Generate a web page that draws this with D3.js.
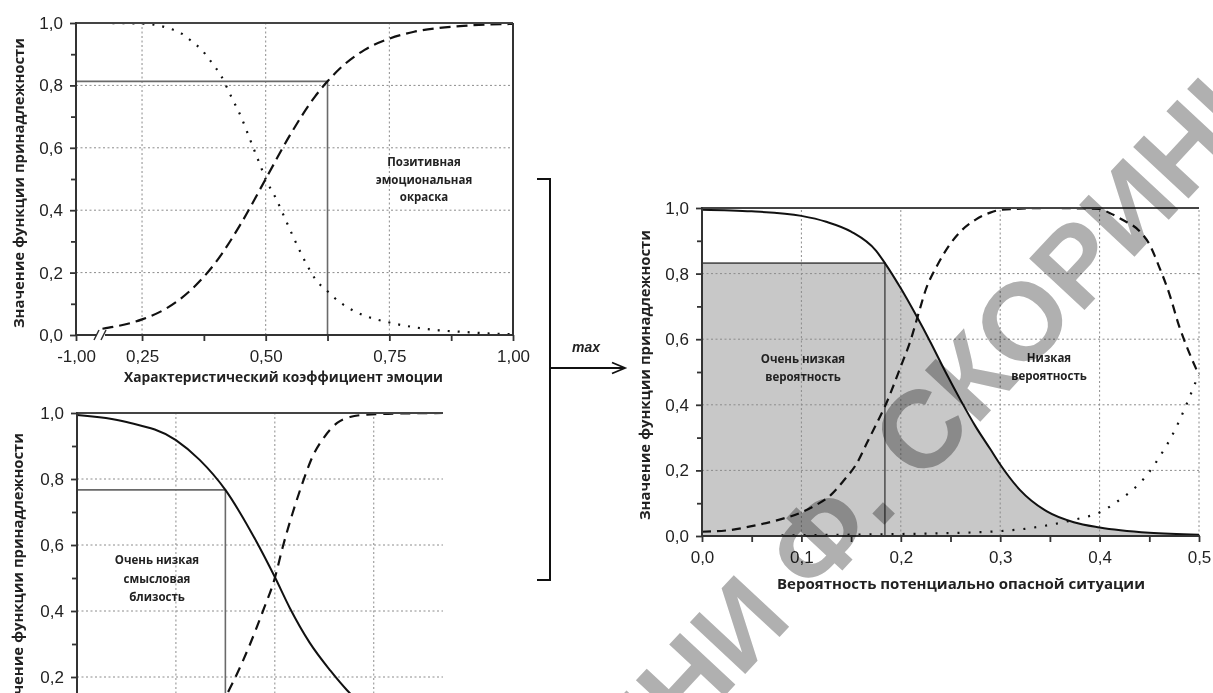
<!DOCTYPE html>
<html><head><meta charset="utf-8">
<script src="https://cdn.jsdelivr.net/npm/d3@7"></script>
<style>
body{margin:0;background:#fff;}
svg{display:block;}
</style></head><body>
<svg id="c" width="1213" height="693"></svg>
<script>
// ---------- DATA ----------
// Panel 1: emotion coefficient
const p1TickX = [-1, 0.25, 0.5, 0.75, 1];
const p1MinorX = [0.375, 0.625, 0.875];
const p1PosX = [0.17,0.25,0.30,0.35,0.40,0.45,0.50,0.55,0.60,0.625,0.65,0.70,0.75,0.80,0.85,0.90,0.95,1.0];
const p1Positive = [0.02,0.05,0.086,0.146,0.235,0.357,0.50,0.643,0.765,0.813,0.854,0.914,0.95,0.972,0.984,0.991,0.995,0.997];
const p1NegX = [0.17,0.25,0.30,0.33,0.35,0.37,0.39,0.41,0.43,0.45,0.47,0.49,0.50,0.52,0.54,0.56,0.58,0.60,0.625,0.65,0.675,0.70,0.75,0.80,0.85,0.90,0.95,1.0];
const p1Negative = [1.0,0.998,0.985,0.966,0.942,0.915,0.875,0.83,0.765,0.70,0.62,0.54,0.50,0.44,0.37,0.30,0.235,0.18,0.14,0.105,0.08,0.062,0.04,0.025,0.015,0.01,0.005,0.003];
const p1Cut = [0.625, 0.813];
const p1Text = ["Позитивная","эмоциональная","окраска"];

// Panel 2: semantic closeness
const p2YTicks = [0.2,0.4,0.6,0.8,1.0];
const p2SolidX = [0,0.05,0.1,0.124,0.15,0.175,0.2,0.215,0.235,0.256,0.273,0.29,0.31,0.34,0.37];
const p2Solid = [0.994,0.973,0.918,0.858,0.767,0.645,0.503,0.41,0.305,0.22,0.16,0.11,0.07,0.035,0.015];
const p2DashX = [0.12,0.14,0.157,0.175,0.188,0.2,0.208,0.218,0.228,0.238,0.25,0.263,0.276,0.293,0.32,0.37];
const p2Dash = [0.04,0.09,0.18,0.30,0.40,0.50,0.594,0.697,0.788,0.867,0.927,0.97,0.988,0.995,0.998,1.0];
const p2Cut = [0.15, 0.767];
const p2Text = ["Очень низкая","смысловая","близость"];

// Panel 3: probability of dangerous situation
const p3TickX = [0,0.1,0.2,0.3,0.4,0.5];
const p3MinorX = [0.05,0.15,0.25,0.35,0.45];
const p3SolidX = [0,0.05,0.1,0.125,0.15,0.175,0.184,0.2,0.215,0.23,0.245,0.26,0.275,0.29,0.30,0.32,0.347,0.374,0.40,0.45,0.5];
const p3Solid = [0.995,0.99,0.976,0.958,0.928,0.87,0.832,0.755,0.675,0.59,0.50,0.415,0.335,0.265,0.218,0.14,0.075,0.042,0.026,0.01,0.004];
const p3DashX = [0,0.025,0.05,0.078,0.1,0.112,0.13,0.142,0.156,0.166,0.176,0.184,0.2,0.21,0.218,0.225,0.237,0.248,0.26,0.275,0.29,0.302,0.35,0.4,0.41,0.423,0.44,0.45,0.46,0.47,0.48,0.49,0.5];
const p3Dash = [0.013,0.017,0.03,0.05,0.072,0.09,0.126,0.167,0.223,0.284,0.345,0.395,0.517,0.598,0.68,0.75,0.827,0.883,0.928,0.964,0.986,0.995,1.0,0.997,0.985,0.964,0.93,0.89,0.82,0.74,0.64,0.56,0.49];
const p3DotX = [0.08,0.15,0.2,0.25,0.3,0.325,0.35,0.375,0.4,0.42,0.44,0.45,0.46,0.47,0.48,0.49,0.5];
const p3Dot = [0.002,0.004,0.006,0.009,0.015,0.022,0.034,0.05,0.072,0.11,0.16,0.195,0.24,0.29,0.35,0.42,0.495];
const p3Cut = [0.184, 0.832];
const p3TextLeft = ["Очень низкая","вероятность"];
const p3TextRight = ["Низкая","вероятность"];

const yTicks = [0,0.2,0.4,0.6,0.8,1.0];
const yMinor = [0.1,0.3,0.5,0.7,0.9];
const gridY = [0.2,0.4,0.6,0.8];
const yTitle = "Значение функции принадлежности";
const p1XTitle = "Характеристический коэффициент эмоции";
const p3XTitle = "Вероятность потенциально опасной ситуации";
const maxLabel = "max";
const watermark1 = "ИМЕНИ Ф.";
const watermark2 = "СКОРИНЫ";

// ---------- DRAW ----------
const fmt1 = v => v.toFixed(1).replace(".", ",");
const fmt2 = v => v.toFixed(2).replace(".", ",");
const svg = d3.select("#c");
svg.append("rect").attr("width",1213).attr("height",693).attr("fill","#fff");

const SANS = "'Liberation Sans', Arial, sans-serif";
const BOLD = "'Open Sans', 'DejaVu Sans', sans-serif";

function lineGen(x,y){ return d3.line().x(d=>x(d[0])).y(d=>y(d[1])).curve(d3.curveMonotoneX); }

function drawPanel(o){
  const g = svg.append("g");
  const x = o.x, y = o.y;
  const xr = x.range(), x0 = xr[0], x1 = xr[xr.length-1];
  const y0 = y.range()[0], y1 = y.range()[1];

  const fillLayer = g.append("g");
  if (o.fill) o.fill(fillLayer, x, y);

  const grid = g.append("g").attr("stroke","#8c8c8c").attr("stroke-width",1).attr("stroke-dasharray","2,2.5");
  o.gridX.forEach(v=>grid.append("line").attr("x1",x(v)).attr("x2",x(v)).attr("y1",y0).attr("y2",y1));
  gridY.forEach(v=>grid.append("line").attr("x1",x0).attr("x2",x1).attr("y1",y(v)).attr("y2",y(v)));

  g.append("path").attr("fill","none").attr("stroke",o.cutColor||"#6a6a6a").attr("stroke-width",1.6)
    .attr("d",`M${x0},${y(o.cut[1])}H${x(o.cut[0])}V${y0}`);

  o.curves.forEach(c=>{
    g.append("path").datum(d3.zip(c.xs,c.ys)).attr("fill","none").attr("stroke","#111")
      .attr("stroke-width",c.w||2).attr("stroke-dasharray",c.dash||null)
      .attr("d",lineGen(x,y));
  });

  const ax = g.append("g").attr("stroke","#333").attr("stroke-width",2).attr("fill","none");
  ax.append("line").attr("x1",x0).attr("x2",x1).attr("y1",y1).attr("y2",y1).attr("stroke","#444");
  ax.append("line").attr("x1",x0).attr("x2",x0).attr("y1",y0+1).attr("y2",y1-1);
  ax.append("line").attr("x1",x0-1).attr("x2",x1+1).attr("y1",y0).attr("y2",y0);
  if (o.rightBorder) ax.append("line").attr("x1",x1).attr("x2",x1).attr("y1",y0).attr("y2",y1);

  const yAx = g.append("g").attr("transform",`translate(${x0},0)`)
    .call(d3.axisLeft(y).tickValues(o.yTicks||yTicks).tickFormat(fmt1).tickSize(6).tickPadding(7));
  const yAxM = g.append("g").attr("transform",`translate(${x0},0)`)
    .call(d3.axisLeft(y).tickValues(yMinor).tickFormat("").tickSize(5));
  [yAx,yAxM].forEach(a=>{a.select(".domain").remove(); a.selectAll("line").attr("stroke","#333").attr("stroke-width",1.8);});
  yAx.selectAll("text").attr("font-size",17).attr("font-family",SANS).attr("fill","#222");

  if (o.xTicks){
    const xAx = g.append("g").attr("transform",`translate(0,${y0})`)
      .call(d3.axisBottom(x).tickValues(o.xTicks).tickFormat(o.xFmt).tickSize(6).tickPadding(9));
    const xAxM = g.append("g").attr("transform",`translate(0,${y0})`)
      .call(d3.axisBottom(x).tickValues(o.xMinor).tickFormat("").tickSize(6));
    [xAx,xAxM].forEach(a=>{a.select(".domain").remove(); a.selectAll("line").attr("stroke","#333").attr("stroke-width",1.8);});
    xAx.selectAll("text").attr("font-size",17).attr("font-family",SANS).attr("fill","#222");
  }
  return g;
}

function multiText(lines, cx, cy, lh, size){
  lines.forEach((t,i)=>{
    svg.append("text").attr("x",cx).attr("y",cy+i*lh).attr("dy","0.35em").attr("text-anchor","middle")
      .attr("font-family",BOLD).attr("font-weight",700).attr("font-size",size).attr("fill","#222").text(t);
  });
}
function rotTitle(t, cx, cy, len){
  svg.append("text").attr("transform",`translate(${cx},${cy}) rotate(-90)`).attr("dy","0.35em")
    .attr("text-anchor","middle").attr("font-family",BOLD).attr("font-weight",700).attr("font-size",13.5)
    .attr("fill","#222").attr("textLength",len).attr("lengthAdjust","spacingAndGlyphs").text(t);
}
function xTitle(t, cx, cy, len){
  svg.append("text").attr("x",cx).attr("y",cy).attr("dy","0.35em")
    .attr("text-anchor","middle").attr("font-family",BOLD).attr("font-weight",700).attr("font-size",14)
    .attr("fill","#222").attr("textLength",len).attr("lengthAdjust","spacingAndGlyphs").text(t);
}

// Panel 1
const x1s = d3.scaleLinear().domain([-1,0.165,1]).range([76,100,513]);
const y1s = d3.scaleLinear().domain([0,1]).range([335,23]);
drawPanel({x:x1s,y:y1s,gridX:[0.25,0.5,0.75],cut:p1Cut,rightBorder:true,
  xTicks:p1TickX,xMinor:p1MinorX,xFmt:fmt2,
  curves:[{xs:p1PosX,ys:p1Positive,dash:"11,6",w:2.2},{xs:p1NegX,ys:p1Negative,dash:"2,8",w:2.2}]});
svg.append("rect").attr("x",97).attr("y",330).attr("width",8).attr("height",10).attr("fill","#fff");
svg.append("path").attr("d","M94,340L99,330M101,340L106,330").attr("stroke","#333").attr("stroke-width",1.5);

// Panel 2
const x2s = d3.scaleLinear().domain([0,0.37]).range([77,443]);
const y2s = d3.scaleLinear().domain([0,1]).range([743,413]);
drawPanel({x:x2s,y:y2s,gridX:[0.1,0.2,0.3],cut:p2Cut,yTicks:p2YTicks,
  curves:[{xs:p2SolidX,ys:p2Solid,w:2},{xs:p2DashX,ys:p2Dash,dash:"10,7",w:2.2}]});

// Panel 3
const x3s = d3.scaleLinear().domain([0,0.5]).range([702,1199]);
const y3s = d3.scaleLinear().domain([0,1]).range([536,208]);
drawPanel({x:x3s,y:y3s,gridX:[0.1,0.2,0.3,0.4,0.5],cut:p3Cut,cutColor:"#555",
  xTicks:p3TickX,xMinor:p3MinorX,xFmt:fmt1,
  fill:(g,x,y)=>{
    const clipId="capClip";
    svg.append("defs").append("clipPath").attr("id",clipId).append("rect")
      .attr("x",x(0)).attr("y",y(p3Cut[1])).attr("width",x(0.5)-x(0)).attr("height",y(0)-y(p3Cut[1]));
    g.append("path").datum(d3.zip(p3SolidX,p3Solid)).attr("clip-path",`url(#${clipId})`)
      .attr("fill","#c8c8c8")
      .attr("d",d3.area().x(d=>x(d[0])).y0(y(0)).y1(d=>y(d[1])).curve(d3.curveMonotoneX));
  },
  curves:[{xs:p3SolidX,ys:p3Solid,w:2},{xs:p3DashX,ys:p3Dash,dash:"9,6",w:2.2},{xs:p3DotX,ys:p3Dot,dash:"2,9",w:2.2}]});

// Texts
multiText(p1Text, 424, 162, 17.5, 11.5);
multiText(p2Text, 157, 560, 18.5, 11.5);
multiText(p3TextLeft, 803, 359, 17.5, 11.5);
multiText(p3TextRight, 1049, 358, 17.5, 11.5);
rotTitle(yTitle, 19, 183, 290);
rotTitle(yTitle, 18, 578, 290);
rotTitle(yTitle, 645, 375, 290);
xTitle(p1XTitle, 283.5, 377, 319);
xTitle(p3XTitle, 961, 584, 368);

// bracket + arrow
svg.append("path").attr("d","M537,179H550V580H537").attr("fill","none").attr("stroke","#111").attr("stroke-width",2);
svg.append("path").attr("d","M550,368H625M612,362.5L625,368L612,373.5").attr("fill","none").attr("stroke","#111").attr("stroke-width",1.8);
svg.append("text").attr("x",586).attr("y",352).attr("text-anchor","middle").attr("font-family",SANS)
  .attr("font-style","italic").attr("font-weight",700).attr("font-size",14).attr("fill","#222").text(maxLabel);

// Watermark
const wm = svg.append("g").attr("transform","translate(900,508) rotate(-47)")
  .style("mix-blend-mode","multiply").attr("fill","#b0b0b0")
  .attr("font-family",SANS).attr("font-weight",700).attr("font-size",110);
wm.append("text").attr("x",0).attr("y",0).attr("text-anchor","end").text(watermark1);
wm.append("text").attr("x",31).attr("y",0).attr("text-anchor","start").text(watermark2);
</script>
</body></html>
